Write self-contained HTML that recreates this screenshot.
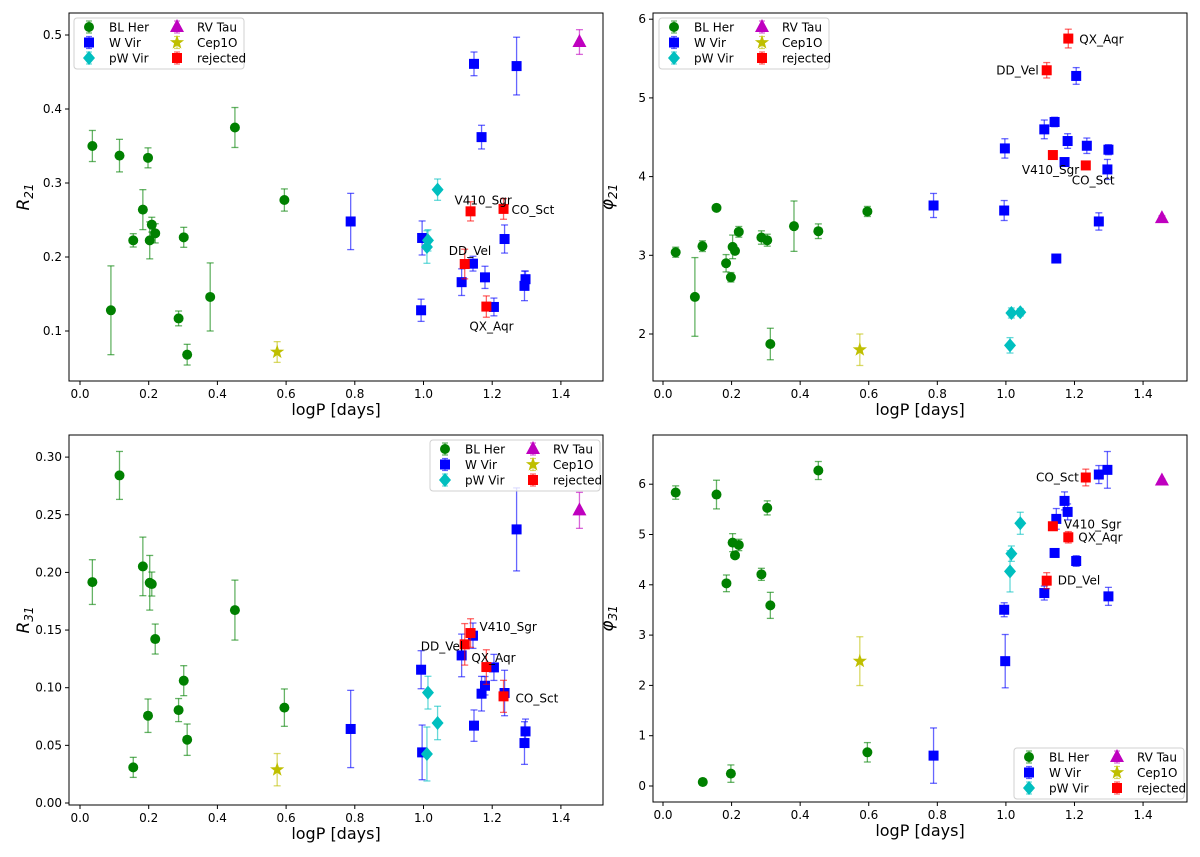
<!DOCTYPE html>
<html><head><meta charset="utf-8">
<style>
html,body{margin:0;padding:0;background:#fff;}
svg{display:block;font-family:"DejaVu Sans","Liberation Sans",sans-serif;}
</style></head>
<body>
<svg id="fig" width="1200" height="857" viewBox="0 0 1200 857" xmlns="http://www.w3.org/2000/svg"></svg>
<script>
// ---- data: [logP, value, error] ----
const r21_blher=[[.036,.350,.021],[.090,.128,.060],[.115,.337,.022],[.155,.2225,.009],[.183,.264,.027],[.198,.334,.0135],[.203,.2225,.025],[.209,.2437,.010],[.219,.232,.013],[.287,.117,.010],[.302,.2266,.0135],[.312,.068,.014],[.379,.146,.046],[.451,.375,.027],[.595,.277,.015]];
const r21_wvir=[[.996,.2257,.023],[.788,.248,.038],[.993,.128,.015],[1.111,.166,.018],[1.144,.191,.010],[1.147,.461,.016],[1.169,.362,.016],[1.179,.1725,.015],[1.205,.1325,.012],[1.236,.2243,.019],[1.271,.458,.039],[1.297,.170,.011],[1.294,.161,.020]];
const r21_pwvir=[[1.041,.291,.0144],[1.013,.2225,.0144],[1.010,.2135,.022]];
const r21_rvtau=[[1.454,.4905,.0167]];
const r21_cep1o=[[.574,.0716,.014]];
const r21_rej=[[1.120,.1905,.020],[1.137,.2617,.013],[1.183,.133,.0144],[1.233,.265,.014]];

const p21_blher=[[.037,3.039,.064],[.093,2.471,.50],[.115,3.116,.068],[.156,3.603,.03],[.184,2.899,.11],[.198,2.721,.06],[.203,3.107,.15],[.210,3.056,.04],[.221,3.298,.068],[.287,3.226,.085],[.304,3.192,.076],[.313,1.873,.20],[.382,3.37,.32],[.453,3.306,.093],[.596,3.557,.064]];
const p21_wvir=[[.789,3.633,.153],[.995,3.569,.127],[.997,4.358,.123],[1.112,4.60,.119],[1.142,4.694,.06],[1.147,2.959,.02],[1.171,4.185,.034],[1.180,4.452,.093],[1.205,5.279,.106],[1.236,4.392,.098],[1.271,3.43,.11],[1.296,4.091,.127],[1.299,4.342,.064]];
const p21_pwvir=[[1.012,1.856,.098],[1.016,2.267,.064],[1.042,2.276,.047]];
const p21_rvtau=[[1.455,3.472,.03]];
const p21_cep1o=[[.574,1.80,.20]];
const p21_rej=[[1.119,5.351,.098],[1.137,4.274,.02],[1.182,5.754,.119],[1.233,4.142,.02]];

const r31_blher=[[.036,.1916,.0194],[.115,.2841,.0208],[.155,.0309,.0087],[.183,.2052,.0254],[.198,.0757,.0145],[.203,.191,.0237],[.209,.1899,.0104],[.219,.1422,.013],[.287,.0806,.010],[.302,.1061,.013],[.312,.0549,.0136],[.451,.1673,.026],[.595,.0827,.0162]];
const r31_wvir=[[.788,.0642,.0335],[.993,.1156,.0165],[.996,.0439,.0237],[1.111,.128,.0185],[1.144,.1451,.011],[1.147,.0671,.0136],[1.169,.0948,.015],[1.179,.1017,.008],[1.205,.1176,.0113],[1.236,.0954,.0197],[1.271,.2373,.036],[1.297,.0621,.0107],[1.294,.052,.0185]];
const r31_pwvir=[[1.013,.0957,.0142],[1.041,.0694,.0145],[1.010,.0425,.0234]];
const r31_rvtau=[[1.454,.2538,.0156]];
const r31_cep1o=[[.574,.0289,.014]];
const r31_rej=[[1.120,.1376,.018],[1.137,.1474,.0124],[1.183,.1179,.015],[1.233,.0925,.0139]];

const p31_blher=[[.037,5.834,.133],[.116,.080,.066],[.156,5.794,.285],[.185,4.029,.166],[.198,.246,.173],[.203,4.838,.179],[.210,4.586,.053],[.221,4.792,.113],[.287,4.208,.12],[.304,5.529,.14],[.313,3.591,.259],[.453,6.272,.179],[.596,.670,.193]];
const p31_wvir=[[.789,.604,.55],[.995,3.504,.139],[.998,2.482,.53],[1.112,3.836,.139],[1.147,5.31,.206],[1.142,4.633,.04],[1.171,5.668,.179],[1.180,5.449,.159],[1.205,4.473,.106],[1.271,6.192,.179],[1.296,6.285,.365],[1.299,3.77,.179]];
const p31_pwvir=[[1.042,5.223,.219],[1.016,4.619,.153],[1.012,4.268,.41]];
const p31_rvtau=[[1.455,6.073,.03]];
const p31_cep1o=[[.574,2.482,.485]];
const p31_rej=[[1.119,4.082,.159],[1.137,5.164,.04],[1.182,4.945,.113],[1.233,6.133,.166]];

const xTicks=[0,0.2,0.4,0.6,0.8,1.0,1.2,1.4];
const xTickLabels=["0.0","0.2","0.4","0.6","0.8","1.0","1.2","1.4"];
const r21Ticks=[0.1,0.2,0.3,0.4,0.5]; const r21TickLabels=["0.1","0.2","0.3","0.4","0.5"];
const p21Ticks=[2,3,4,5,6]; const p21TickLabels=["2","3","4","5","6"];
const r31Ticks=[0,0.05,0.10,0.15,0.20,0.25,0.30]; const r31TickLabels=["0.00","0.05","0.10","0.15","0.20","0.25","0.30"];
const p31Ticks=[0,1,2,3,4,5,6]; const p31TickLabels=["0","1","2","3","4","5","6"];
const starNames=["DD_Vel","V410_Sgr","QX_Aqr","CO_Sct"];

const NS="http://www.w3.org/2000/svg";
const svg=document.getElementById('fig');
function mk(tag,attrs,parent){const e=document.createElementNS(NS,tag);for(const k in attrs)e.setAttribute(k,attrs[k]);(parent||svg).appendChild(e);return e;}

const colors={blher:"#008000",wvir:"#0000ff",pwvir:"#00bfbf",rvtau:"#bf00bf",cep1o:"#bfbf00",rej:"#ff0000"};
const labels={blher:"BL Her",wvir:"W Vir",pwvir:"pW Vir",rvtau:"RV Tau",cep1o:"Cep1O",rej:"rejected"};

function marker(kind,x,y,g){
  const c=colors[kind];let e;
  if(kind==="blher") e=mk('circle',{cx:x,cy:y,r:5,fill:c},g);
  else if(kind==="wvir"||kind==="rej") e=mk('rect',{x:x-5,y:y-5,width:10,height:10,fill:c},g);
  else if(kind==="pwvir") e=mk('polygon',{points:`${x},${y-7} ${x+6},${y} ${x},${y+7} ${x-6},${y}`,fill:c},g);
  else if(kind==="rvtau") e=mk('polygon',{points:`${x},${y-8} ${x+7},${y+5} ${x-7},${y+5}`,fill:c},g);
  else { let p=[];for(let i=0;i<10;i++){const r=i%2?3:7.5;const a=-Math.PI/2+i*Math.PI/5;p.push((x+r*Math.cos(a)).toFixed(1)+','+(y+r*Math.sin(a)).toFixed(1));} e=mk('polygon',{points:p.join(' '),fill:c},g);}
  return e;
}

const panels=[
 {id:"r21",L:69,R:603,T:13,B:381,x0:80,xs:343.5,yf:v=>331-(v-0.1)*740,ticks:r21Ticks,tl:r21TickLabels,ylab:"R",sub:"21",
  data:{blher:r21_blher,wvir:r21_wvir,pwvir:r21_pwvir,rvtau:r21_rvtau,cep1o:r21_cep1o,rej:r21_rej},
  leg:[74,18],lab:[[-16,-9,'start'],[-16,-7,'start'],[-17,24,'start'],[8,5,'start']]},
 {id:"phi21",L:653,R:1187,T:13,B:381,x0:663,xs:342.9,yf:v=>334-(v-2)*78.7,ticks:p21Ticks,tl:p21TickLabels,ylab:"φ",sub:"21",
  data:{blher:p21_blher,wvir:p21_wvir,pwvir:p21_pwvir,rvtau:p21_rvtau,cep1o:p21_cep1o,rej:p21_rej},
  leg:[659,18],lab:[[-8,4,'end'],[-31,19,'start'],[11,5,'start'],[-14,19,'start']]},
 {id:"r31",L:69,R:603,T:435,B:805,x0:80,xs:343.5,yf:v=>803-v*1153,ticks:r31Ticks,tl:r31TickLabels,ylab:"R",sub:"31",
  data:{blher:r31_blher,wvir:r31_wvir,pwvir:r31_pwvir,rvtau:r31_rvtau,cep1o:r31_cep1o,rej:r31_rej},
  leg:[430,440],lab:[[-44,6,'start'],[9,-2,'start'],[-15,-5,'start'],[12,6,'start']]},
 {id:"phi31",L:653,R:1187,T:435,B:802,x0:663,xs:342.9,yf:v=>786-v*50.3,ticks:p31Ticks,tl:p31TickLabels,ylab:"φ",sub:"31",
  data:{blher:p31_blher,wvir:p31_wvir,pwvir:p31_pwvir,rvtau:p31_rvtau,cep1o:p31_cep1o,rej:p31_rej},
  leg:[1014,748],lab:[[11,4,'start'],[11,2,'start'],[10,4,'start'],[-7,4,'end']]}
];

panels.forEach(P=>{
  const g=mk('g',{});
  
  
  const X=v=>P.x0+v*P.xs;
  const frame=mk('rect',{x:P.L,y:P.T,width:P.R-P.L,height:P.B-P.T,fill:'none',stroke:'#000','stroke-width':1},g);
  
  
  xTicks.forEach((t,i)=>{
    const x=X(t);
    mk('line',{x1:x,y1:P.B,x2:x,y2:P.B+4,stroke:'#000'},g);
    const tx=mk('text',{x:x,y:P.B+17,'font-size':12,'text-anchor':'middle'},g);
    tx.textContent=xTickLabels[i];
    
    
  });
  P.ticks.forEach((t,i)=>{
    const y=P.yf(t);
    mk('line',{x1:P.L-4,y1:y,x2:P.L,y2:y,stroke:'#000'},g);
    const tx=mk('text',{x:P.L-7,y:y+4,'font-size':12,'text-anchor':'end'},g);
    tx.textContent=P.tl[i];
    
    
  });
  const xl=mk('text',{x:(P.L+P.R)/2,y:P.B+34,'font-size':16,'text-anchor':'middle'},g);
  xl.textContent='logP [days]';
  
  
  const cy=(P.T+P.B)/2;
  const yl=mk('text',{x:0,y:0,'font-size':17,'font-style':'italic','text-anchor':'middle',transform:`translate(${P.L-40},${cy}) rotate(-90)`},g);
  yl.textContent=P.ylab;
  const ts=mk('tspan',{'font-size':12,dy:4},yl); ts.textContent=P.sub;
  
  
  ["blher","wvir","pwvir","cep1o","rvtau","rej"].forEach(k=>{
    const sg=mk('g',{},g);
    
    
    P.data[k].forEach(d=>{
      const x=X(d[0]),y=P.yf(d[1]),y1=P.yf(d[1]+d[2]),y2=P.yf(d[1]-d[2]);
      const eg=mk('g',{stroke:colors[k],'stroke-opacity':0.6,'stroke-width':1.3},sg);
      mk('line',{x1:x,y1:y1,x2:x,y2:y2},eg);
      mk('line',{x1:x-3.5,y1:y1,x2:x+3.5,y2:y1},eg);
      mk('line',{x1:x-3.5,y1:y2,x2:x+3.5,y2:y2},eg);
      
      
      const m=marker(k,x,y,sg);
      
      
    });
  });
  P.data.rej.forEach((d,i)=>{
    const t=mk('text',{x:X(d[0])+P.lab[i][0],y:P.yf(d[1])+P.lab[i][1],'font-size':12,'text-anchor':P.lab[i][2]},g);
    t.textContent=starNames[i];
    
    
  });
  const lg=mk('g',{},g);
  
  
  const lx=P.leg[0],ly=P.leg[1];
  mk('rect',{x:lx,y:ly,width:170,height:51,rx:3,fill:'#fff','fill-opacity':0.8,stroke:'#d0d0d0'},lg);
  const order=[["blher","wvir","pwvir"],["rvtau","cep1o","rej"]];
  order.forEach((col,ci)=>col.forEach((k,ri)=>{
    const mx=lx+15+ci*88,my=ly+9+ri*15.5;
    const eg=mk('g',{stroke:colors[k],'stroke-opacity':0.6,'stroke-width':1.2},lg);
    mk('line',{x1:mx,y1:my-6,x2:mx,y2:my+6},eg);
    mk('line',{x1:mx-3,y1:my-6,x2:mx+3,y2:my-6},eg);
    mk('line',{x1:mx-3,y1:my+6,x2:mx+3,y2:my+6},eg);
    marker(k,mx,my,lg);
    const t=mk('text',{x:mx+20,y:my+4.5,'font-size':12},lg);
    t.textContent=labels[k];
    
    
  }));
});
</script>
</body></html>
